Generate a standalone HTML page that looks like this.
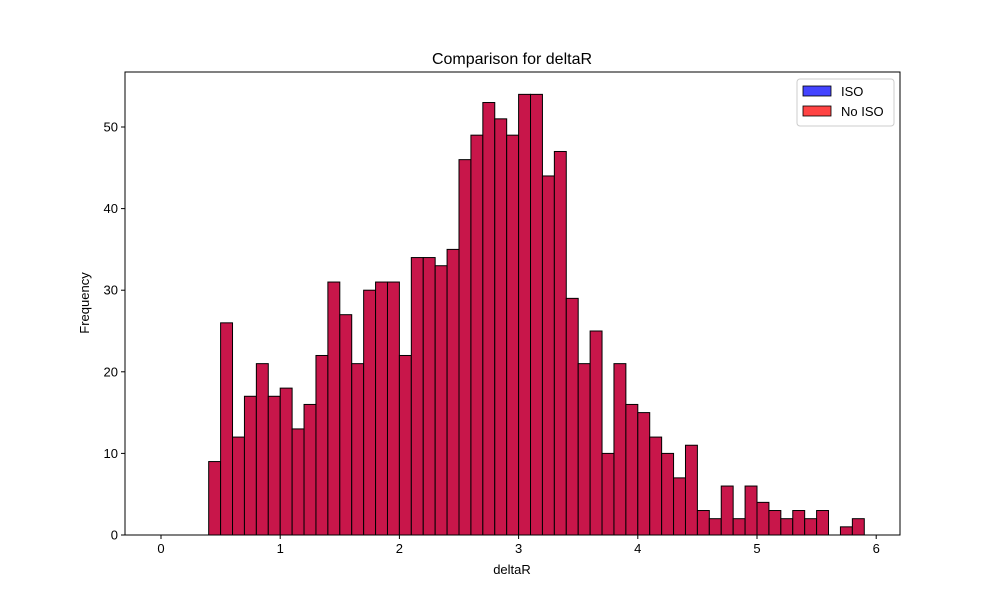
<!DOCTYPE html>
<html><head><meta charset="utf-8"><style>body{margin:0;background:#fff}svg{font-family:"Liberation Sans","DejaVu Sans",sans-serif}</style></head>
<body>
<svg id="chart" width="1000" height="600">
<rect width="1000" height="600" fill="#fff"/>
<text x="512" y="64" font-size="16" text-anchor="middle">Comparison for deltaR</text>
<g id="bars"></g>
<g id="axes"></g>
<text x="512" y="574" font-size="13" text-anchor="middle">deltaR</text>
<text x="89" y="303" font-size="13" text-anchor="middle" transform="rotate(-90 89 303)">Frequency</text>
<g>
<rect x="797" y="79" width="97" height="47" fill="#fff" stroke="#ccc" rx="3"/>
<rect x="803" y="86" width="28" height="10" fill="#4444ff" stroke="#000" stroke-width="0.8"/>
<text x="841" y="96" font-size="13">ISO</text>
<rect x="803" y="106" width="28" height="10" fill="#ff4444" stroke="#000" stroke-width="0.8"/>
<text x="841" y="116" font-size="13">No ISO</text>
</g>
</svg>
<script>
const binStart=[0,0.1,0.2,0.3,0.4,0.5,0.6,0.7,0.8,0.9,1.0,1.1,1.2,1.3,1.4,1.5,1.6,1.7,1.8,1.9,2.0,2.1,2.2,2.3,2.4,2.5,2.6,2.7,2.8,2.9,3.0,3.1,3.2,3.3,3.4,3.5,3.6,3.7,3.8,3.9,4.0,4.1,4.2,4.3,4.4,4.5,4.6,4.7,4.8,4.9,5.0,5.1,5.2,5.3,5.4,5.5,5.6,5.7,5.8];
const counts=[0,0,0,0,9,26,12,17,21,17,18,13,16,22,31,27,21,30,31,31,22,34,34,33,35,46,49,53,51,49,54,54,44,47,29,21,25,10,21,16,15,12,10,7,11,3,2,6,2,6,4,3,2,3,2,3,0,1,2];
const binWidth=0.1;
const xTicks=[0,1,2,3,4,5,6];
const yTicks=[0,10,20,30,40,50];
const L=125,R=900,T=72,B=535;
const X=v=>161+v*119.2;
const Y=v=>535-v*8.16;
const NS="http://www.w3.org/2000/svg";
const bars=document.getElementById('bars'),axes=document.getElementById('axes');
function mk(tag,attrs,parent){const e=document.createElementNS(NS,tag);for(const k in attrs)e.setAttribute(k,attrs[k]);parent.appendChild(e);return e;}
binStart.forEach((s,i)=>{
 const x0=X(s),x1=X(s+binWidth),y=Y(counts[i]);
 const r=mk('rect',{x:x0,y:y,width:x1-x0,height:B-y,fill:'#c8164a',stroke:'#000','stroke-width':1},bars);
 
 
});
const frame=mk('rect',{x:L,y:T,width:R-L,height:B-T,fill:'none',stroke:'#000','stroke-width':1},axes);


xTicks.forEach(t=>{
 mk('line',{x1:X(t),x2:X(t),y1:B,y2:B+4,stroke:'#000'},axes);
 const tx=mk('text',{x:X(t),y:B+18,'font-size':13,'text-anchor':'middle'},axes);
 tx.textContent=t;
 
 
});
yTicks.forEach(t=>{
 mk('line',{x1:L-4,x2:L,y1:Y(t),y2:Y(t),stroke:'#000'},axes);
 const tx=mk('text',{x:L-7,y:Y(t)+4.5,'font-size':13,'text-anchor':'end'},axes);
 tx.textContent=t;
 
 
});
</script>
</body></html>
